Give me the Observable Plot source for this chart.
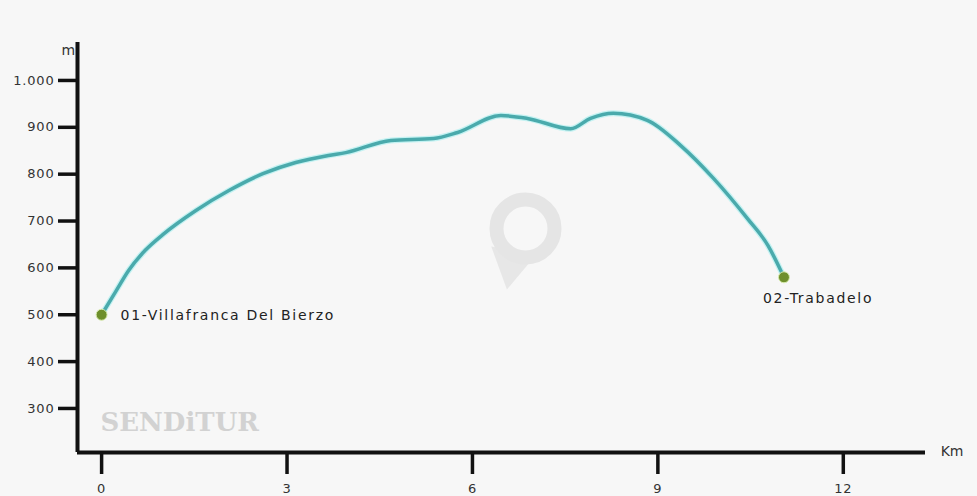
<!DOCTYPE html>
<html>
<head>
<meta charset="utf-8">
<script src="https://cdn.jsdelivr.net/npm/d3@7"></script>
<script src="https://cdn.jsdelivr.net/npm/@observablehq/plot@0.6"></script>
<style>
  html, body { margin: 0; padding: 0; background: #f7f7f7; }
  #chart svg { display: block; }
  .stage text { letter-spacing: 1.7px; }
  .ticklab text { letter-spacing: 0.8px; }
</style>
</head>
<body>
<div id="chart"></div>
<script>
// Distance (km) and elevation (m) read from the profile
const km = [0, 0.23, 0.44, 0.71, 0.99, 1.52, 2.06, 2.61, 3.14, 3.67, 3.95, 4.68, 5.37, 5.76, 6.46, 6.89, 7.59, 7.91, 8.28, 8.83, 9.37, 9.90, 10.45, 10.78, 11.04];
const elev = [500, 550, 595, 638, 671, 722, 765, 801, 825, 840, 846, 872, 876, 889, 925, 919, 897, 919, 930, 915, 861, 791, 705, 648, 580];

const stageNames = ["01-Villafranca Del Bierzo", "02-Trabadelo"];
const stageKm = [0, 11.04];
const stageElev = [500, 580];

const xTicks = [0, 3, 6, 9, 12];
const yTicks = [300, 400, 500, 600, 700, 800, 900, 1000];

const profile = km.map((k, i) => ({km: k, elev: elev[i]}));
const stages = stageNames.map((n, i) => ({name: n, km: stageKm[i], elev: stageElev[i]}));

const xDomain = [-0.39, 13.33];
const yDomain = [206, 1081];
const font = "'DejaVu Sans', Verdana, sans-serif";
const fmt = d => d3.format(",")(d).replace(/,/g, ".");

const chart = Plot.plot({
  width: 977,
  height: 496,
  marginLeft: 77,
  marginRight: 52,
  marginTop: 42,
  marginBottom: 44,
  style: {background: "#f7f7f7", fontFamily: font, fontSize: "13px", color: "#333"},
  x: {domain: xDomain},
  y: {domain: yDomain},
  marks: [
    // watermark logo
    Plot.dot([0], {frameAnchor: "middle", dx: 10, dy: 16, r: 17, symbol: "triangle", rotate: 190, fill: "#e7e7e7"}),
    Plot.dot([0], {frameAnchor: "middle", dx: 24, dy: -19, r: 29, stroke: "#e5e5e5", strokeWidth: 14, fill: "#f7f7f7"}),
    Plot.text(["SENDiTUR"], {frameAnchor: "bottom-left", dx: 23, dy: -22, fill: "#d2d2d2", fontSize: 26, fontWeight: "bold", fontFamily: "'DejaVu Serif', serif", textAnchor: "start"}),
    // axes
    Plot.axisX({ticks: xTicks, tickSize: 22, tickPadding: 9, strokeWidth: 3.5, stroke: "#111", tickFormat: d => d, fontSize: 13, fill: "#333", label: null, className: "ticklab"}),
    Plot.axisY({ticks: yTicks, tickSize: 19, tickPadding: 4, strokeWidth: 3.5, stroke: "#111", tickFormat: fmt, fontSize: 13, fill: "#333", label: null, className: "ticklab"}),
    Plot.ruleY([yDomain[0]], {stroke: "#111", strokeWidth: 4}),
    Plot.ruleX([xDomain[0]], {stroke: "#111", strokeWidth: 4}),
    Plot.text(["m"], {frameAnchor: "top-left", dx: -16, dy: 3, fontSize: 14, fill: "#333"}),
    Plot.text(["Km"], {frameAnchor: "bottom-right", dx: 38, dy: 3, fontSize: 14, fill: "#333"}),
    // profile line with soft glow
    Plot.line(profile, {x: "km", y: "elev", curve: "monotone-x", stroke: "#c4f2f2", strokeWidth: 6}),
    Plot.line(profile, {x: "km", y: "elev", curve: "monotone-x", stroke: "#4aaaac", strokeWidth: 3.5}),
    // stages
    Plot.dot(stages, {x: "km", y: "elev", r: 5.5, fill: "#6e8f2c", stroke: "#d9ecb0", strokeWidth: 1}),
    Plot.text(stages.slice(0, 1), {x: "km", y: "elev", text: "name", textAnchor: "start", dx: 19, dy: 1, fontSize: 14, fill: "#222", className: "stage"}),
    Plot.text(stages.slice(1), {x: "km", y: "elev", text: "name", textAnchor: "start", dx: -21, dy: 21, fontSize: 14, fill: "#222", className: "stage"})
  ]
});

document.getElementById("chart").appendChild(chart);
</script>
</body>
</html>
